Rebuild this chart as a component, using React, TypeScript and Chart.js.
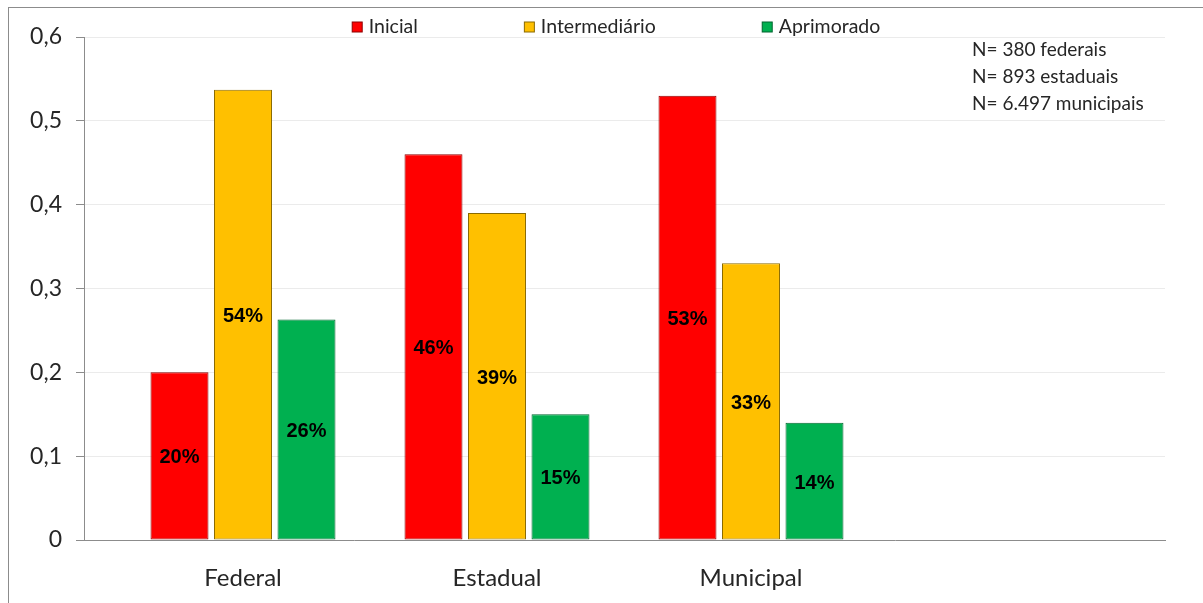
import React, { useEffect, useRef } from 'react';
import { Chart, registerables } from 'chart.js';

Chart.register(...registerables);

const CATEGORIES = ['Federal', 'Estadual', 'Municipal'];
const SERIES_NAMES = ['Inicial', 'Intermediário', 'Aprimorado'];
const INICIAL = [0.2, 0.46, 0.53];
const INTERMEDIARIO = [0.537, 0.39, 0.33];
const APRIMORADO = [0.263, 0.15, 0.14];
const LABELS_INICIAL = ['20%', '46%', '53%'];
const LABELS_INTERMEDIARIO = ['54%', '39%', '33%'];
const LABELS_APRIMORADO = ['26%', '15%', '14%'];
const Y_TICKS = [0, 0.1, 0.2, 0.3, 0.4, 0.5, 0.6];
const NOTES = ['N= 380 federais', 'N= 893 estaduais', 'N= 6.497 municipais'];

const FILL = ['#FF0000', '#FFC000', '#00B050'];
const EDGE = ['#8E0000', '#8A6A00', '#00652E'];
const TEXT = '#262626';
const AXIS = '#8C8C8C';

const valueLabelsPlugin = {
  id: 'valueLabels',
  afterDatasetsDraw(chart: any) {
    const ctx = chart.ctx;
    ctx.save();
    ctx.font = 'bold 20px "Liberation Sans", Arial, sans-serif';
    ctx.fillStyle = '#000';
    ctx.textAlign = 'center';
    ctx.textBaseline = 'middle';
    chart.data.datasets.forEach((ds: any, di: number) => {
      const meta = chart.getDatasetMeta(di);
      meta.data.forEach((el: any, i: number) => {
        const txt = ds.valueLabels[i];
        ctx.fillText(txt, el.x, (el.y + el.base) / 2 + 2);
      });
    });
    ctx.restore();
  },
};

const legendNotesPlugin = {
  id: 'legendNotes',
  afterDraw(chart: any) {
    const ctx = chart.ctx;
    ctx.save();
    ctx.font = '19.5px Lato, "Noto Sans", sans-serif';
    ctx.textBaseline = 'middle';
    ctx.textAlign = 'left';
    const box = 11;
    const gapBoxText = 6;
    const gapItems = 106;
    const items = chart.data.datasets.map((ds: any) => ({
      label: ds.label,
      fill: ds.backgroundColor,
      edge: ds.borderColor,
      w: box + gapBoxText + ctx.measureText(ds.label).width,
    }));
    const total = items.reduce((s: number, it: any) => s + it.w, 0) + gapItems * (items.length - 1);
    let x = 616 - total / 2;
    const y = 27;
    items.forEach((it: any) => {
      ctx.fillStyle = it.fill;
      ctx.fillRect(x + 0.5, y - box / 2 + 0.5, box - 1, box - 1);
      ctx.strokeStyle = it.edge;
      ctx.lineWidth = 1;
      ctx.strokeRect(x + 0.5, y - box / 2 + 0.5, box - 1, box - 1);
      ctx.fillStyle = TEXT;
      ctx.fillText(it.label, x + box + gapBoxText, y);
      x += it.w + gapItems;
    });
    ctx.font = '19px Lato, "Noto Sans", sans-serif';
    NOTES.forEach((n, i) => {
      ctx.fillText(n, 972, 50 + i * 27);
    });
    ctx.restore();
  },
};

export default function App() {
  const ref = useRef<HTMLCanvasElement | null>(null);

  useEffect(() => {
    if (!ref.current) return;
    const mk = (vals: number[]) => vals.map((v, i) => ({ x: i, y: v }));
    const chart = new Chart(ref.current, {
      type: 'bar',
      data: {
        datasets: [
          {
            label: SERIES_NAMES[0],
            data: mk(INICIAL),
            backgroundColor: FILL[0],
            borderColor: EDGE[0],
            borderWidth: 1,
            borderSkipped: false,
            valueLabels: LABELS_INICIAL,
          } as any,
          {
            label: SERIES_NAMES[1],
            data: mk(INTERMEDIARIO),
            backgroundColor: FILL[1],
            borderColor: EDGE[1],
            borderWidth: 1,
            borderSkipped: false,
            valueLabels: LABELS_INTERMEDIARIO,
          } as any,
          {
            label: SERIES_NAMES[2],
            data: mk(APRIMORADO),
            backgroundColor: FILL[2],
            borderColor: EDGE[2],
            borderWidth: 1,
            borderSkipped: false,
            valueLabels: LABELS_APRIMORADO,
          } as any,
        ],
      },
      options: {
        responsive: false,
        animation: false,
        devicePixelRatio: 1,
        categoryPercentage: 0.75,
        barPercentage: 0.913,
        layout: { padding: { left: 0, right: 38, top: 37, bottom: 0 } },
        plugins: {
          legend: { display: false },
          tooltip: { enabled: false },
        },
        scales: {
          x: {
            type: 'linear',
            min: -0.626,
            max: 3.63,
            offset: false,
            bounds: 'data',
            afterFit: (s: any) => {
              s.height = 63;
            },
            afterBuildTicks: (s: any) => {
              s.ticks = CATEGORIES.map((_, i) => ({ value: i }));
            },
            grid: { display: false, drawTicks: false, offset: false },
            border: { display: true, color: AXIS, width: 1 },
            ticks: {
              padding: 24,
              maxRotation: 0,
              autoSkip: false,
              color: TEXT,
              font: { family: 'Lato, "Noto Sans", sans-serif', size: 24 },
              callback: (v: any) => CATEGORIES[Math.round(Number(v))] ?? '',
            },
          },
          y: {
            min: 0,
            max: 0.6,
            afterFit: (s: any) => {
              s.width = 84;
            },
            afterBuildTicks: (s: any) => {
              s.ticks = Y_TICKS.map((v) => ({ value: v }));
            },
            grid: { color: '#EBEBEB', tickColor: AXIS, tickLength: 8, drawTicks: true },
            border: { display: true, color: AXIS, width: 1 },
            ticks: {
              padding: 14,
              color: TEXT,
              font: { family: 'Lato, "Noto Sans", sans-serif', size: 23 },
              callback: (v: any) => (Number(v) === 0 ? '0' : Number(v).toFixed(1).replace('.', ',')),
            },
          },
        },
      } as any,
      plugins: [valueLabelsPlugin, legendNotesPlugin],
    });
    return () => chart.destroy();
  }, []);

  return (
    <div
      style={{
        position: 'fixed',
        left: 0,
        top: 0,
        width: 1203,
        height: 603,
        overflow: 'hidden',
        background: '#fff',
      }}
    >
      <div
        style={{
          position: 'absolute',
          left: 8,
          top: 7,
          width: 1400,
          height: 800,
          borderLeft: `1px solid ${AXIS}`,
          borderTop: `1px solid ${AXIS}`,
        }}
      />
      <canvas
        ref={ref}
        width={1203}
        height={603}
        style={{ position: 'absolute', left: 0, top: 0, width: 1203, height: 603 }}
      />
    </div>
  );
}
